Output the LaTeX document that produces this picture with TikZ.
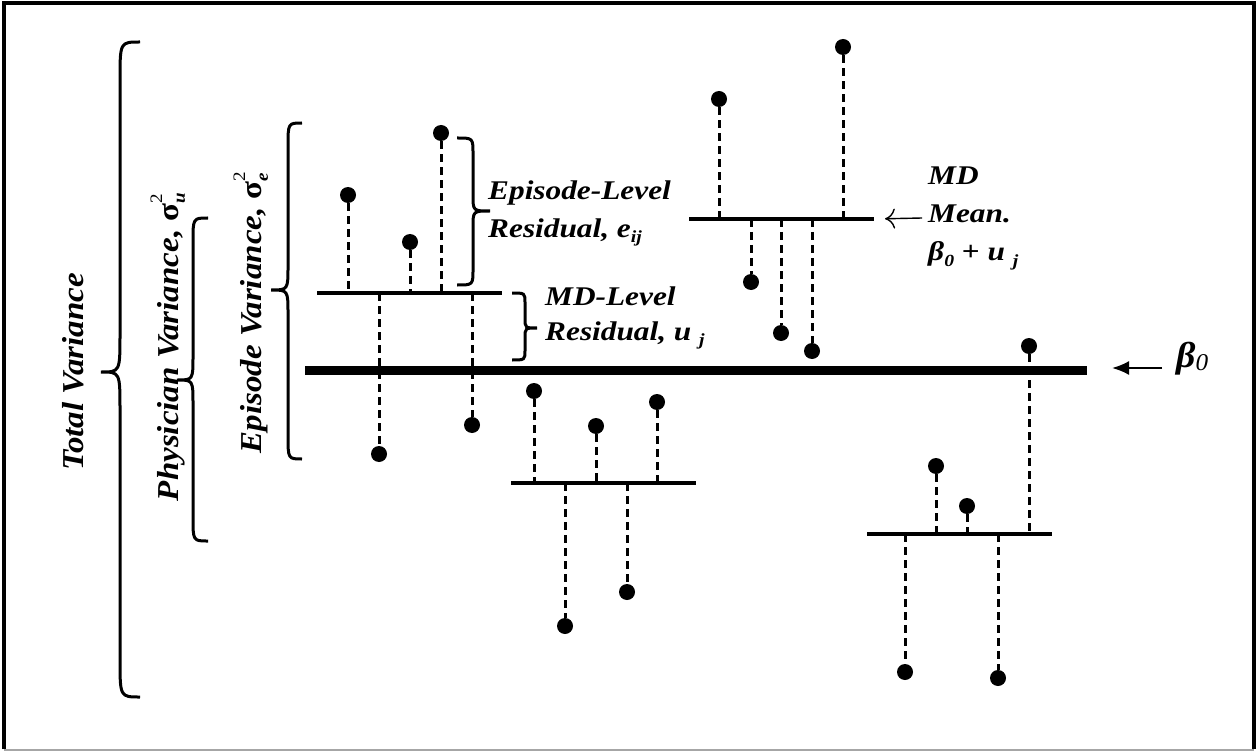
\documentclass[tikz,border=0pt]{standalone}
\usepackage{fontspec}
\setmainfont{Liberation Serif}
\usetikzlibrary{arrows.meta}
\newcommand\xs[1]{\scalebox{1.16}[1]{#1}}
\newcommand\sbs[1]{\raisebox{-0.22em}{\fontsize{17}{17}\selectfont #1}}
\newcommand\sigvar[1]{{\upshape σ}\rlap{\raisebox{0.55em}{\fontsize{19}{19}\selectfont\upshape\mdseries 2}}\raisebox{-0.2em}{\fontsize{19}{19}\selectfont #1}}
\newcommand\curly[7]{\draw[bracestyle] (#2,#4) .. controls (#1,#4) .. (#1,#4+#7) -- (#1,#6-#7) .. controls (#1,#6) .. (#3,#6) .. controls (#1,#6) .. (#1,#6+#7) -- (#1,#5-#7) .. controls (#1,#5) .. (#2,#5);}
\begin{document}
\begin{tikzpicture}[x=1pt,y=-1pt,
 dot/.style={circle,fill=black,inner sep=0pt,minimum size=16pt},
 resid/.style={dash pattern=on 8pt off 5pt, line width=3pt},
 meanline/.style={line width=3.8pt},
 grandline/.style={line width=9pt},
 bracestyle/.style={line width=3pt},
 lbl/.style={font=\fontsize{27}{30}\selectfont\bfseries\itshape, inner sep=0pt, anchor=base west},
 vlbl/.style={font=\fontsize{33}{36}\selectfont\bfseries\itshape, inner sep=0pt, anchor=center},
]
\useasboundingbox (0,0) rectangle (1257,751);
% frame
\draw[line width=3.5pt] (4,749) -- (4,3) -- (1254,3) -- (1254,749);
\draw[black!35, line width=1.5pt] (4,750) -- (1254,750);

% grand mean
\coordinate (g0w) at (305,370);
\coordinate (g0e) at (1087,370);
\draw[grandline] (g0w) -- (g0e);

% group 1
\coordinate (m1w) at (317,293); \coordinate (m1e) at (502,293);
\draw[meanline] (m1w) -- (m1e);
\foreach \n/\x/\y in {g1a/348/195, g1b/410/242, g1c/441/133} {
  \node[dot] (\n) at (\x,\y) {}; \draw[resid] (\n) -- (\n |- m1w);}
\foreach \n/\x/\y in {g1d/379/454, g1e/472/425} {
  \node[dot] (\n) at (\x,\y) {}; \draw[resid] (\n |- m1w) -- (\n);}

% group 2
\coordinate (m2w) at (689,219); \coordinate (m2e) at (874,219);
\draw[meanline] (m2w) -- (m2e);
\foreach \n/\x/\y in {g2a/719/99, g2b/843/47} {
  \node[dot] (\n) at (\x,\y) {}; \draw[resid] (\n) -- (\n |- m2w);}
\foreach \n/\x/\y in {g2c/751/282, g2d/781/333, g2e/812/351} {
  \node[dot] (\n) at (\x,\y) {}; \draw[resid] (\n |- m2w) -- (\n);}

% group 3
\coordinate (m3w) at (511,483); \coordinate (m3e) at (696,483);
\draw[meanline] (m3w) -- (m3e);
\foreach \n/\x/\y in {g3a/534/391, g3b/596/426, g3c/657/402} {
  \node[dot] (\n) at (\x,\y) {}; \draw[resid] (\n) -- (\n |- m3w);}
\foreach \n/\x/\y in {g3d/565/626, g3e/627/592} {
  \node[dot] (\n) at (\x,\y) {}; \draw[resid] (\n |- m3w) -- (\n);}

% group 4
\coordinate (m4w) at (867,534); \coordinate (m4e) at (1052,534);
\draw[meanline] (m4w) -- (m4e);
\foreach \n/\x/\y in {g4a/936/466, g4b/967/506, g4c/1029/346} {
  \node[dot] (\n) at (\x,\y) {}; \draw[resid] (\n) -- (\n |- m4w);}
\foreach \n/\x/\y in {g4d/905/672, g4e/998/678} {
  \node[dot] (\n) at (\x,\y) {}; \draw[resid] (\n |- m4w) -- (\n);}

% braces
\curly{120}{140}{101}{42}{697}{372}{38}
\curly{193}{208}{177}{218}{541}{380}{24}
\curly{288}{302}{271}{123}{459}{290}{24}
\curly{473}{457}{490}{138}{285}{211}{16}
\curly{525}{512}{537}{293}{360}{328}{10}

% vertical labels
\node[vlbl] (totL) at (73,372) {\scalebox{0.92}[1]{\rotatebox{90}{Total Variance}}};
\node[vlbl] (phyL) at (168,347) {\scalebox{0.92}[1]{\rotatebox{90}{Physician Variance, \sigvar{u}}}};
\node[vlbl] (epiV) at (251,313) {\scalebox{0.92}[1]{\rotatebox{90}{Episode Variance, \sigvar{e}}}};

% residual labels
\node[lbl] (epiL1) at (488,200) {\xs{Episode-Level}};
\node[lbl] (epiL2) at (488,237) {\xs{Residual, e\sbs{ij}}};
\node[lbl] (mdL1) at (545,305) {\xs{MD-Level}};
\node[lbl] (mdL2) at (545,340) {\xs{Residual, u \sbs{j}}};

% MD mean label
\node[lbl] (mean1) at (928,185) {\xs{MD}};
\node[lbl] (mean2) at (928,223) {\xs{Mean.}};
\node[lbl] (mean3) at (928,261) {\xs{β\sbs{0} \upshape+ \itshape u \sbs{j}}};
\coordinate (mdTail) at (922,218);
\draw[line width=1.4pt, -{To[length=10pt,width=20pt]}, shorten >=11pt] (mdTail) -- (m2e);

% beta0
\node[font=\fontsize{36}{40}\selectfont\bfseries\itshape, inner sep=0pt, anchor=base west] (b0) at (1176,367) {\scalebox{1.05}[1]{β\raisebox{-0.1em}{\fontsize{24}{24}\selectfont\mdseries 0}}};
\coordinate (b0Tail) at (1162,368);
\draw[line width=2.2pt, -{Latex[length=17pt,width=14pt]}, shorten >=25pt] (b0Tail) -- (g0e |- b0Tail);
\end{tikzpicture}
\end{document}
